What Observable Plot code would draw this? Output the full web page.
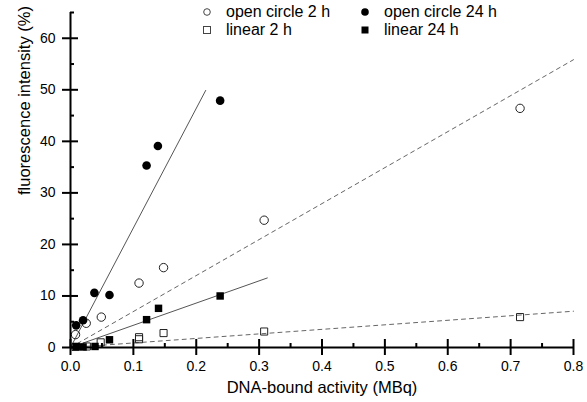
<!DOCTYPE html>
<html><head><meta charset="utf-8">
<script src="https://cdn.jsdelivr.net/npm/d3@7"></script>
<script src="https://cdn.jsdelivr.net/npm/@observablehq/plot@0.6"></script>
<style>
body{margin:0;background:#fff;}
#wrap{position:relative;width:587px;height:402px;font-family:"Liberation Sans",Arial,sans-serif;}
#legend{position:absolute;left:0;top:0;width:587px;height:60px;pointer-events:none;}
.li{position:absolute;font-size:16px;line-height:18px;color:#000;white-space:nowrap;}
.mk{position:absolute;}
</style></head><body><div id="wrap"></div>
<script>
// open circle 2 h (hollow circles)
const oc2X = [0.008, 0.025, 0.049, 0.109, 0.148, 0.308, 0.715];
const oc2Y = [2.5, 4.7, 5.9, 12.5, 15.5, 24.7, 46.4];
// open circle 24 h (filled circles)
const oc24X = [0.009, 0.020, 0.038, 0.062, 0.121, 0.139, 0.238];
const oc24Y = [4.3, 5.3, 10.6, 10.2, 35.3, 39.1, 47.9];
// linear 2 h (hollow squares)
const lin2X = [0.008, 0.026, 0.048, 0.109, 0.109, 0.148, 0.308, 0.715];
const lin2Y = [0.1, 0.2, 1.0, 2.0, 1.6, 2.8, 3.1, 5.9];
// linear 24 h (filled squares)
const lin24X = [0.009, 0.020, 0.039, 0.062, 0.121, 0.140, 0.238];
const lin24Y = [0.2, 0.1, 0.2, 1.5, 5.4, 7.6, 10.0];

// fitted lines through origin: series, slope, end of line
const fitSeries = ["open circle 24 h", "linear 24 h", "open circle 2 h", "linear 2 h"];
const fitSlope = [232, 43.1, 69.8, 8.8];
const fitXEnd = [0.215, 0.313, 0.8, 0.8];
const fitDashed = [false, false, true, true];

const legendLabels = ["open circle 2 h", "open circle 24 h", "linear 2 h", "linear 24 h"];

const xMajor = [0, 0.1, 0.2, 0.3, 0.4, 0.5, 0.6, 0.7, 0.8];
const xMinor = [0.05, 0.15, 0.25, 0.35, 0.45, 0.55, 0.65, 0.75];
const yMajor = [0, 10, 20, 30, 40, 50, 60];
const yMinor = [5, 15, 25, 35, 45, 55, 65];

const zip = (xs, ys) => xs.map((x, i) => ({x, y: ys[i]}));
const oc2 = zip(oc2X, oc2Y), oc24 = zip(oc24X, oc24Y), lin2 = zip(lin2X, lin2Y), lin24 = zip(lin24X, lin24Y);
const fitPts = fitSeries.flatMap((s, i) => [
  {s, dashed: fitDashed[i], x: 0, y: 0},
  {s, dashed: fitDashed[i], x: fitXEnd[i], y: fitSlope[i] * fitXEnd[i]}
]);

const tickColor = "#000";
const chart = Plot.plot({
  width: 587, height: 402,
  marginLeft: 70, marginRight: 14, marginTop: 12, marginBottom: 55,
  x: {domain: [0, 0.8]},
  y: {domain: [0, 65]},
  style: {fontFamily: '"Liberation Sans", Arial, sans-serif', fontSize: "14px"},
  marks: [
    Plot.line(fitPts.filter(d => !d.dashed), {x: "x", y: "y", z: "s", stroke: "#555", strokeWidth: 1}),
    Plot.line(fitPts.filter(d => d.dashed), {x: "x", y: "y", z: "s", stroke: "#666", strokeWidth: 1, strokeDasharray: "4,4"}),
    Plot.dot(oc2, {x: "x", y: "y", r: 4.2, stroke: "#222", strokeWidth: 1, fill: "none"}),
    Plot.dot(lin2, {x: "x", y: "y", r: 4, symbol: "square", stroke: "#222", strokeWidth: 1, fill: "none"}),
    Plot.dot(oc24, {x: "x", y: "y", r: 4.3, fill: "#000", stroke: "none"}),
    Plot.dot(lin24, {x: "x", y: "y", r: 4.2, symbol: "square", fill: "#000", stroke: "none"}),
    // axis lines
    Plot.ruleX([0], {stroke: "#000", strokeWidth: 2}),
    Plot.ruleY([0], {stroke: "#000", strokeWidth: 2}),
    // x ticks: outward part from the axis, inward part as rules
    Plot.axisX(xMajor, {tickSize: 8, tickPadding: 6, tickFormat: d3.format(".1f"), fontSize: 14, label: null, stroke: tickColor, strokeWidth: 2}),
    Plot.ruleX(xMajor, {x: d => d, y1: d => 0, y2: d => 0, insetTop: -8, stroke: tickColor, strokeWidth: 2}),
    Plot.ruleX(xMinor, {x: d => d, y1: d => 0, y2: d => 0, insetTop: -4, stroke: tickColor, strokeWidth: 2}),
    // y ticks
    Plot.axisY(yMajor, {tickSize: 8, tickPadding: 7, tickFormat: d3.format("d"), fontSize: 14, label: null, stroke: tickColor, strokeWidth: 2}),
    Plot.ruleY(yMajor, {y: d => d, x1: d => 0, x2: d => 0, insetRight: -8, stroke: tickColor, strokeWidth: 2}),
    Plot.ruleY(yMinor, {y: d => d, x1: d => 0, x2: d => 0, insetRight: -4, stroke: tickColor, strokeWidth: 2}),
    // axis titles
    Plot.text(["DNA-bound activity (MBq)"], {frameAnchor: "bottom", dy: 45, fontSize: 16.5}),
    Plot.text(["fluorescence intensity (%)"], {frameAnchor: "left", rotate: -90, dx: -46, dy: 15, fontSize: 16.5})
  ]
});
const wrap = document.getElementById("wrap");
wrap.appendChild(chart);

// legend overlay
const legend = document.createElement("div");
legend.id = "legend";
const legPos = [[207, 12], [365, 12], [207, 30], [365, 30]];
const legSym = ["hollowCircle", "filledCircle", "hollowSquare", "filledSquare"];
legendLabels.forEach((lab, i) => {
  const [cx, cy] = legPos[i];
  const svg = d3.create("svg").attr("class", "mk").attr("width", 12).attr("height", 12)
    .style("left", (cx - 6) + "px").style("top", (cy - 6) + "px");
  const t = legSym[i];
  if (t === "hollowCircle") svg.append("circle").attr("cx", 6).attr("cy", 6).attr("r", 3.3).attr("fill", "none").attr("stroke", "#444");
  if (t === "filledCircle") svg.append("circle").attr("cx", 6).attr("cy", 6).attr("r", 3.8).attr("fill", "#000");
  if (t === "hollowSquare") svg.append("rect").attr("x", 2.5).attr("y", 2.5).attr("width", 7).attr("height", 7).attr("fill", "none").attr("stroke", "#444");
  if (t === "filledSquare") svg.append("rect").attr("x", 2.5).attr("y", 2.5).attr("width", 7).attr("height", 7).attr("fill", "#000");
  legend.appendChild(svg.node());
  const sp = document.createElement("span");
  sp.className = "li";
  sp.textContent = lab;
  sp.style.left = (cx + 19) + "px";
  sp.style.top = (cy - 9) + "px";
  legend.appendChild(sp);
});
wrap.appendChild(legend);
</script>
</body></html>
